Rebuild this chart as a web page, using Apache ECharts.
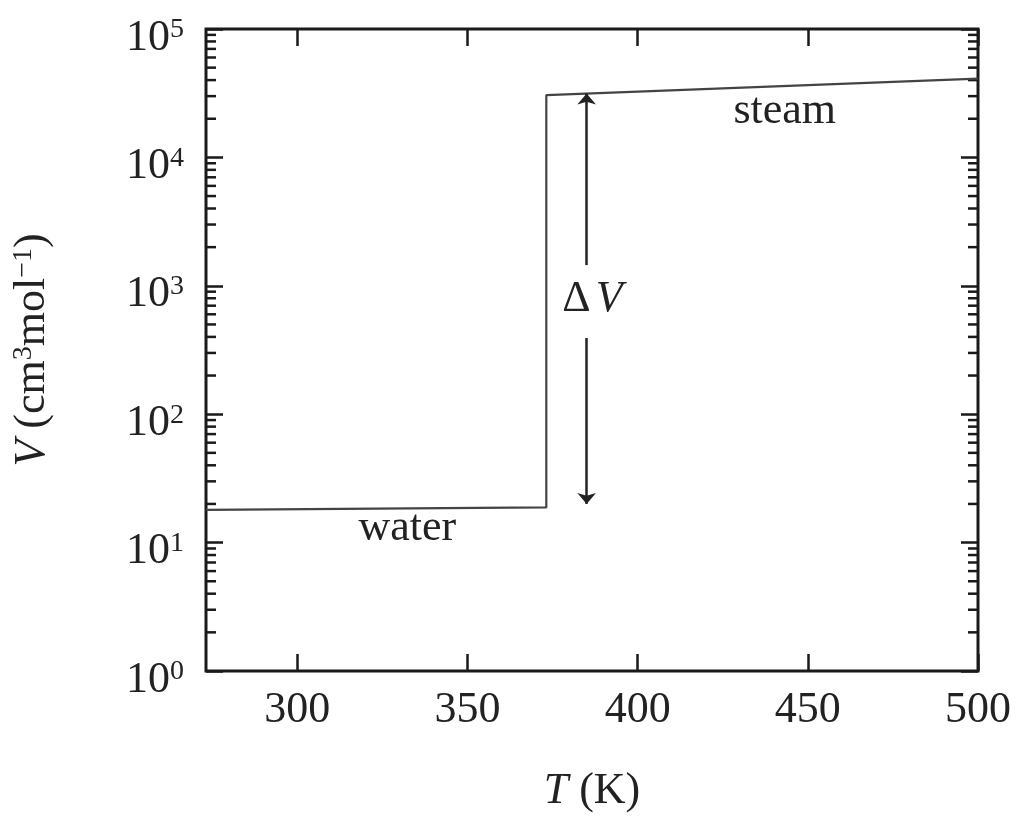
<!DOCTYPE html>
<html>
<head>
<meta charset="utf-8">
<script src="https://cdn.jsdelivr.net/npm/echarts@6/dist/echarts.min.js"></script>
<style>
html,body{margin:0;padding:0;background:#fff;}
#chart{width:1035px;height:818px;}
</style>
</head>
<body>
<div id="chart"></div>
<script>
// ---- data ----
const temperatureK = [273.15, 373.15, 373.15, 500];
const molarVolume = [18.0, 18.8, 30600, 41000];
const xTickValues = [300, 350, 400, 450, 500];
const yDecades = [1, 10, 100, 1000, 10000, 100000];
const yMinorTicks = [2,3,4,5,6,7,8,9, 20,30,40,50,60,70,80,90, 200,300,400,500,600,700,800,900,
  2000,3000,4000,5000,6000,7000,8000,9000, 20000,30000,40000,50000,60000,70000,80000,90000];
const arrowT = 385;
const arrowTop = 31500, arrowGapTop = 1450, arrowGapBottom = 392, arrowBottom = 20;
const annotations = [
  {text: 'water', T: 332.3, V: 13.0},
  {text: 'steam', T: 443.2, V: 22600},
  {text: 'dV', T: 386.7, V: 789}
];

const xMin = 273.15, xMax = 500;
const FONT = '"Liberation Serif", "Times New Roman", serif';
const INK = '#1a1a1a';
const TXT = '#222';
const FS = 44;

const chart = echarts.init(document.getElementById('chart'), null, {renderer: 'canvas'});

const tickStyle = {color: INK, width: 2.5};

const option = {
  animation: false,
  backgroundColor: '#fff',
  grid: {left: 206, right: 57, top: 29, bottom: 147, show: true, borderColor: INK, borderWidth: 3, backgroundColor: 'transparent'},
  xAxis: [
    {
      type: 'value', min: xMin, max: xMax, position: 'bottom',
      axisLine: {show: false}, splitLine: {show: false},
      axisTick: {show: true, inside: true, length: 17, lineStyle: tickStyle, customValues: xTickValues},
      axisLabel: {customValues: xTickValues, margin: 17, fontFamily: FONT, fontSize: FS, color: TXT},
      name: '{i|T} (K)', nameLocation: 'middle', nameGap: 98,
      nameTextStyle: {fontFamily: FONT, fontSize: FS, color: TXT,
        rich: {i: {fontFamily: FONT, fontSize: FS, fontStyle: 'italic', color: TXT}}}
    },
    {
      type: 'value', min: xMin, max: xMax, position: 'top',
      axisLine: {show: false}, splitLine: {show: false},
      axisTick: {show: true, inside: true, length: 17, lineStyle: tickStyle, customValues: xTickValues},
      axisLabel: {show: false, customValues: xTickValues}
    }
  ],
  yAxis: [
    {
      type: 'log', logBase: 10, min: 1, max: 100000, position: 'left',
      axisLine: {show: false}, splitLine: {show: false},
      axisTick: {show: true, inside: true, length: 17, lineStyle: tickStyle},
      axisLabel: {
        margin: 22, showMinLabel: true, showMaxLabel: true, color: TXT,
        padding: [18, 0, 0, 0],
        formatter: v => '{b|10}{s|' + Math.round(Math.log10(v)) + '}',
        rich: {
          b: {fontFamily: FONT, fontSize: FS, lineHeight: FS, color: TXT},
          s: {fontFamily: FONT, fontSize: 28, lineHeight: 10, verticalAlign: 'top', color: TXT}
        }
      },
      name: '{i|V} (cm{s|3}mol{s|\u22121})', nameLocation: 'middle', nameGap: 152, nameRotate: 90,
      nameTextStyle: {fontFamily: FONT, fontSize: FS, color: TXT,
        rich: {
          i: {fontFamily: FONT, fontSize: FS, fontStyle: 'italic', color: TXT, lineHeight: FS},
          s: {fontFamily: FONT, fontSize: 28, color: TXT, lineHeight: 14, verticalAlign: 'top'}
        }}
    },
    {
      type: 'log', logBase: 10, min: 1, max: 100000, position: 'right',
      axisLine: {show: false}, splitLine: {show: false},
      axisTick: {show: true, inside: true, length: 17, lineStyle: tickStyle},
      axisLabel: {show: false}
    }
  ],
  series: [
    {
      type: 'line', xAxisIndex: 0, yAxisIndex: 0,
      data: temperatureK.map((t, i) => [t, molarVolume[i]]),
      symbol: 'none', lineStyle: {color: '#444', width: 2.2},
      markLine: {
        silent: true, animation: false,
        symbol: ['none', 'none'], symbolSize: [14, 11],
        lineStyle: {type: 'solid', color: '#222', width: 2.5},
        label: {show: false},
        data: [
          [{coord: [arrowT, arrowTop], symbol: 'arrow', symbolSize: [14, 11]}, {coord: [arrowT, arrowGapTop], symbol: 'none'}],
          [{coord: [arrowT, arrowGapBottom], symbol: 'none'}, {coord: [arrowT, arrowBottom], symbol: 'arrow', symbolSize: [14, 11]}]
        ]
      }
    },
    {
      type: 'custom', xAxisIndex: 0, yAxisIndex: 0, silent: true, clip: false,
      data: yMinorTicks.map(v => [xMin, v]),
      encode: {x: 0, y: 1},
      renderItem: (params, api) => {
        const v = api.value(1);
        const l = api.coord([xMin, v]);
        const r = api.coord([xMax, v]);
        const st = {stroke: INK, lineWidth: 2.5};
        return {type: 'group', children: [
          {type: 'line', shape: {x1: l[0], y1: l[1], x2: l[0] + 10, y2: l[1]}, style: st},
          {type: 'line', shape: {x1: r[0], y1: r[1], x2: r[0] - 10, y2: r[1]}, style: st}
        ]};
      }
    },
    {
      type: 'scatter', xAxisIndex: 0, yAxisIndex: 0, silent: true,
      symbolSize: 0, itemStyle: {opacity: 1},
      data: annotations.map(a => ({value: [a.T, a.V], name: a.text})),
      label: {
        show: true, position: 'inside', color: TXT, opacity: 1, fontFamily: FONT, fontSize: FS,
        formatter: p => p.name === 'dV' ? '{d|\u0394}{v|V}' : p.name,
        rich: {
          d: {fontFamily: FONT, fontSize: FS, color: TXT},
          v: {fontFamily: FONT, fontSize: FS, fontStyle: 'italic', color: TXT, padding: [0, 0, 0, 5]}
        }
      }
    }
  ]
};
chart.setOption(option);
</script>
</body>
</html>
